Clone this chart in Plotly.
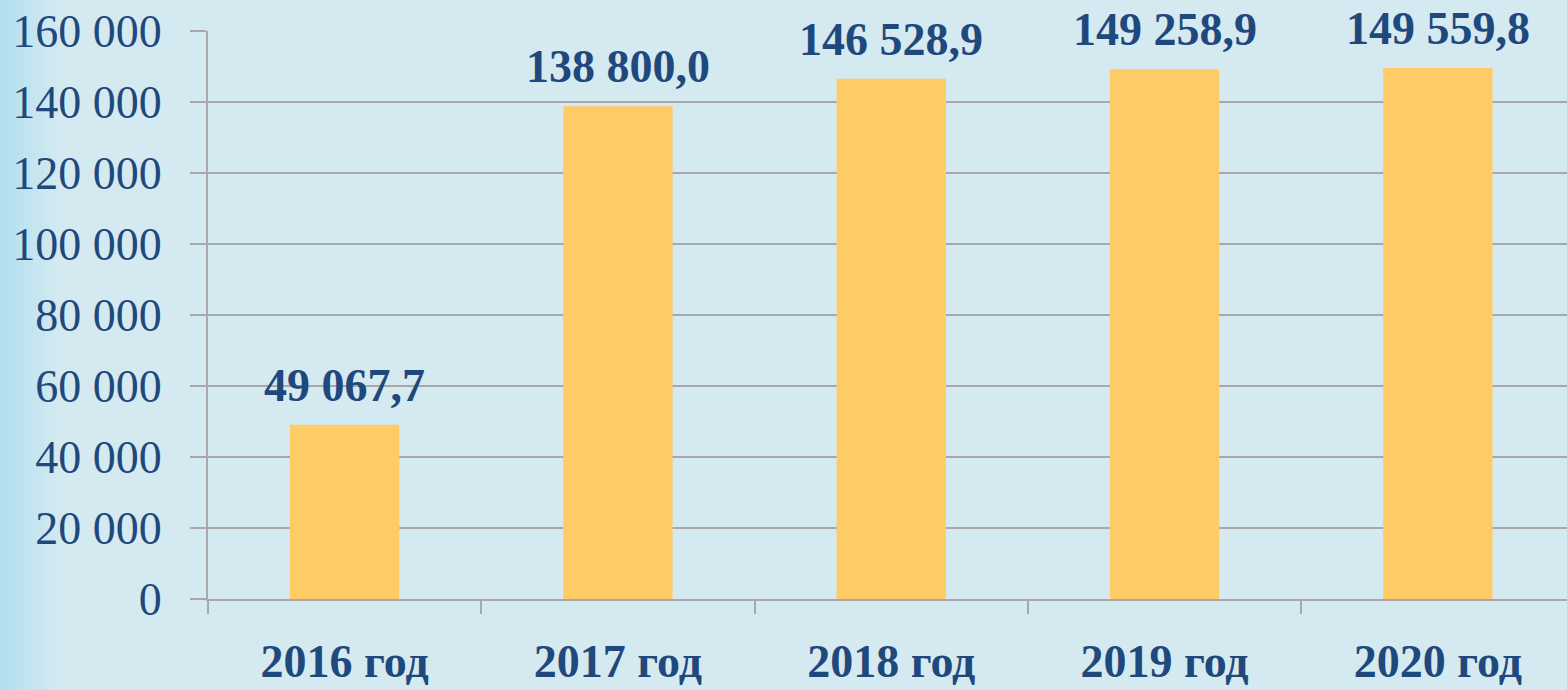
import plotly.graph_objects as go

categories = ["2016 год", "2017 год", "2018 год", "2019 год", "2020 год"]
values = [49067.7, 138800.0, 146528.9, 149258.9, 149559.8]
y_ticks = [0, 20000, 40000, 60000, 80000, 100000, 120000, 140000, 160000]

BG = "#d5eaf0"
BAR = "#fecb66"
TXT = "#1f497d"
GRID = "#a8a8a8"
SERIF = "Liberation Serif, Times New Roman, serif"

def fmt(v):
    s = f"{v:,.1f}"
    return s.replace(",", " ").replace(".", ",")

fig = go.Figure()
fig.add_trace(go.Bar(x=categories, y=values, marker=dict(color=BAR, line=dict(width=0)),
                     width=0.4, hoverinfo="skip"))

for c, v in zip(categories, values):
    fig.add_annotation(x=c, y=v, text=fmt(v), showarrow=False, yanchor="bottom",
                       yshift=12, font=dict(family=SERIF, size=46, color=TXT, weight="bold"))

# left-edge gradient
W, L, R = 1567, 208, 0
pw = W - L - R
n = 16
c0 = (0xb3, 0xe0, 0xf1)
c1 = (0xd5, 0xea, 0xf0)
for i in range(n):
    t = i / (n - 1)
    col = tuple(int(c0[k] + (c1[k] - c0[k]) * t) for k in range(3))
    x0 = (i * 4 - L) / pw
    x1 = ((i + 1) * 4 - L) / pw
    fig.add_shape(type="rect", xref="paper", yref="paper", x0=x0, x1=x1, y0=-0.2, y1=1.2,
                  fillcolor="rgb(%d,%d,%d)" % col, line=dict(width=0), layer="below")

fig.update_layout(
    width=W, height=690,
    margin=dict(l=L, r=R, t=31, b=91, pad=0),
    paper_bgcolor=BG, plot_bgcolor=BG,
    separators=", ",
    showlegend=False,
    bargap=0.6,
)
fig.update_xaxes(range=[-0.5, -0.5 + pw / 273.3], automargin=False,
                 tickson="boundaries", ticks="outside", ticklen=13, tickwidth=2, tickcolor=GRID,
                 showline=True, linecolor=GRID, linewidth=2, showgrid=False,
                 tickfont=dict(family=SERIF, size=46, color=TXT, weight="bold"),
                 ticklabelstandoff=21)
fig.update_yaxes(range=[0, 160000], tickvals=y_ticks, tickformat=",d", automargin=False,
                 ticks="outside", ticklen=16, tickwidth=2, tickcolor=GRID,
                 showline=True, linecolor=GRID, linewidth=2,
                 showgrid=True, gridcolor=GRID, gridwidth=2, zeroline=False,
                 tickfont=dict(family=SERIF, size=46, color=TXT),
                 ticklabelstandoff=19)

fig.write_html("out.html", config={"displayModeBar": False},
               post_script="document.body.style.margin='0';document.body.style.overflow='hidden';")
